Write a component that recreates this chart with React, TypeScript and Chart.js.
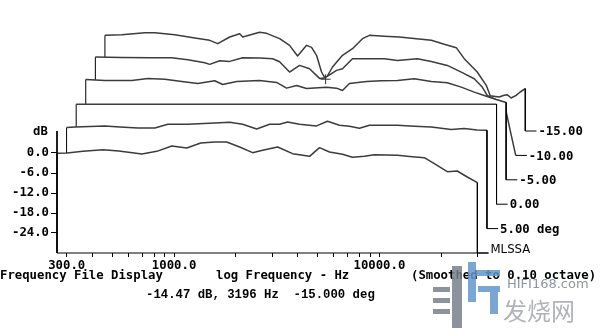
import React, { useEffect, useRef } from 'react';
import { Chart, registerables } from 'chart.js';

Chart.register(...registerables);

// ---- data: one trace per angle, each in its own (frequency Hz, dB) frame ----
const FRAME_LABELS = ['MLSSA', '5.00 deg', '0.00', '-5.00', '-10.00', '-15.00'];

const FREQ_0 = [269, 301, 360, 450, 538, 697, 824, 975, 1153, 1348, 1577, 1804, 2086, 2413, 2699, 3193, 3778, 4568, 5109, 5712, 6610, 7389, 8455, 9457, 12235, 14469, 16548, 18513, 21413, 23944, 26777, 30000];
const DB_0 = [-0.1, 0.0, 0.5, 1.0, 0.6, -0.3, 0.5, 2.1, 1.5, 3.0, 3.3, 3.3, 1.8, 0.1, 0.8, 1.8, -0.2, -1.0, 1.6, 0.3, -0.4, -1.3, -1.0, -0.5, -0.7, -1.1, -1.4, -3.2, -5.6, -5.4, -7.2, -8.9];

const FREQ_1 = [269, 296, 413, 489, 598, 724, 837, 1047, 1417, 1675, 1938, 2267, 2622, 2933, 3207, 3667, 4437, 5018, 5739, 6418, 7180, 8030, 9498, 10985, 13288, 16073, 20108, 23256, 26895, 30000];
const DB_1 = [0.3, 0.5, 0.8, 0.5, 0.2, 0.2, 1.3, 1.3, 1.7, 1.9, 1.3, -0.1, 1.3, 1.3, 2.0, 1.3, 0.8, 2.2, 1.0, 0.7, 0.1, 1.0, 1.0, 1.0, 0.7, 0.5, -0.3, 0.0, -0.4, -0.5];

const FREQ_2 = [269, 30000];
const DB_2 = [0, 0];

const FREQ_3 = [269, 334, 451, 540, 653, 790, 945, 1142, 1249, 1462, 1890, 2287, 2558, 2861, 3200, 4003, 4477, 4786, 5177, 6263, 7406, 8861, 10718, 12966, 15508, 18140, 20976, 23464, 26838, 30000];
const DB_3 = [0.1, -0.2, -0.2, 0.4, 0.2, -0.5, -1.1, -0.3, -1.4, -0.5, -0.2, -0.8, -2.5, -1.7, -2.6, -2.2, -2.5, -3.2, -1.1, -0.5, -0.3, -0.2, 0.3, -0.5, -0.9, -2.2, -3.7, -4.7, -5.9, -6.8];

const FREQ_4 = [269, 362, 496, 634, 759, 918, 970, 1085, 1214, 1404, 1698, 1965, 2124, 2375, 2657, 2972, 3324, 3516, 4021, 4300, 4808, 5626, 6880, 7958, 9956, 11644, 13929, 16290, 18844, 20606, 21797, 24112, 26363, 28199, 30000];
const DB_4 = [-0.5, -0.6, -0.7, -0.7, -1.3, -2.2, -2.7, -1.6, -1.8, -0.7, -0.8, -1.0, -1.9, -5.0, -3.0, -4.0, -6.9, -6.8, -4.5, -4.0, -1.0, -1.0, -1.0, -1.5, -1.0, -1.8, -3.0, -5.0, -7.0, -9.5, -12.0, -13.3, -14.1, -22.5, -30.0];

const FREQ_5 = [269, 325, 421, 471, 589, 737, 871, 953, 1090, 1219, 1261, 1525, 1649, 1908, 2133, 2334, 2581, 2730, 2887, 3053, 3196, 3453, 3862, 4320, 4831, 5224, 6180, 7308, 8841, 10457, 12093, 13836, 15126, 17503, 19361, 20248, 22387, 23673, 24482, 25604, 27079, 28318, 30000];
const DB_5 = [-1.3, -1.1, -0.5, -0.5, -1.1, -2.1, -2.8, -3.8, -1.8, -0.8, -1.8, -0.4, -0.7, -2.3, -4.3, -7.5, -4.3, -4.9, -7.3, -12.3, -14.47, -10.8, -7.3, -5.3, -2.3, -1.3, -1.6, -1.8, -2.3, -2.8, -4.0, -5.0, -8.3, -12.3, -16.3, -19.4, -19.8, -19.3, -19.1, -20.1, -19.3, -18.3, -17.3];

const X_TICKS = [300, 400, 500, 600, 700, 800, 900, 1000, 2000, 3000, 4000, 5000, 6000, 7000, 8000, 9000, 10000, 20000, 30000];
const X_LABELED = [300, 1000, 10000];
const Y_TICKS = [0, -6, -12, -18, -24];

const CURSOR_FREQ = 3196;
const CURSOR_DB = -14.47;
const CURSOR_FRAME = 5;
const CURSOR_TEXT = '-14.47 dB, 3196 Hz  -15.000 deg';

// frame geometry (in data units)
const F_MIN = 269;
const F_MAX = 30000;
const F_TAIL = 34000;
const DB_FLOOR = -30;
const DB_AXIS_TOP = 6.6;
const STEP_DB = 7.32;
const STEP_FACTOR = 1.1135;

// layout
const W = 600;
const H = 328;
const AREA_LEFT = 57;
const AREA_RIGHT = 595;
const AREA_TOP = 10;
const AREA_BOTTOM = 253;
const DECADE_PX = 205.7;
const PX_PER_DB = 20 / 6;
const X_MAX = F_MIN * Math.pow(10, (AREA_RIGHT - AREA_LEFT) / DECADE_PX);
const Y_MAX = DB_FLOOR + (AREA_BOTTOM - AREA_TOP) / PX_PER_DB;

const FRAMES = [
  { freq: FREQ_0, db: DB_0 },
  { freq: FREQ_1, db: DB_1 },
  { freq: FREQ_2, db: DB_2 },
  { freq: FREQ_3, db: DB_3 },
  { freq: FREQ_4, db: DB_4 },
  { freq: FREQ_5, db: DB_5 },
];

const MONO = '"DejaVu Sans Mono", monospace';
const FONT_SIZE = 12.3;
const TRACE_COLOR = '#3c3c3c';
const EDGE_COLOR = '#000';

function frameDataset(i: number) {
  const { freq, db } = FRAMES[i];
  const s = Math.pow(STEP_FACTOR, i);
  const off = STEP_DB * i;
  const floor = DB_FLOOR + off;
  const pts: { x: number; y: number }[] = [{ x: F_MIN * s, y: floor }];
  freq.forEach((f, k) => pts.push({ x: f * s, y: Math.max(db[k], DB_FLOOR) + off }));
  pts.push({ x: F_MAX * s, y: floor });
  pts.push({ x: F_TAIL * s, y: floor });
  const n = pts.length;
  const isEdge = (c: any) => c.p0DataIndex === 0 || c.p1DataIndex >= n - 2;
  return {
    type: 'line' as const,
    data: pts,
    borderColor: TRACE_COLOR,
    borderWidth: 1.5,
    borderJoinStyle: 'round' as const,
    pointRadius: 0,
    tension: 0,
    fill: { value: floor },
    backgroundColor: '#ffffff',
    clip: false as const,
    segment: {
      borderColor: (c: any) => (isEdge(c) ? EDGE_COLOR : undefined),
      borderWidth: (c: any) => (isEdge(c) ? 1 : undefined),
    },
  };
}

const textPlugin = {
  id: 'mlssaText',
  afterDraw(chart: any) {
    const ctx = chart.ctx as CanvasRenderingContext2D;
    const xs = chart.scales.x;
    const ys = chart.scales.y;
    ctx.save();
    ctx.fillStyle = '#000';
    ctx.textBaseline = 'middle';
    ctx.textAlign = 'left';
    FRAME_LABELS.forEach((t, i) => {
      const s = Math.pow(STEP_FACTOR, i);
      const x = xs.getPixelForValue(F_TAIL * s) + 2;
      const y = ys.getPixelForValue(DB_FLOOR + STEP_DB * i);
      ctx.font = i === 0 ? '13px "Liberation Sans Narrow", "DejaVu Sans Condensed", sans-serif' : `bold ${FONT_SIZE}px ` + MONO;
      ctx.fillText(t, x, y + (i === 0 ? -3 : 1));
    });
    ctx.font = `bold ${FONT_SIZE}px ` + MONO;
    ctx.fillText('dB', 33, ys.getPixelForValue(DB_AXIS_TOP) + 1);
    ctx.fillText('Frequency File Display', 0, 276);
    ctx.fillText('log Frequency - Hz', 216, 276);
    ctx.fillText('(Smoothed to 0.10 octave)', 411, 276);
    ctx.font = 'bold 12.3px "Liberation Mono", monospace';
    ctx.fillText(CURSOR_TEXT, 146, 295);

    // watermark
    ctx.fillStyle = 'rgba(120,128,140,0.85)';
    ctx.fillRect(433, 287, 17, 5);
    ctx.fillRect(433, 298, 17, 5);
    ctx.fillRect(433, 309, 17, 5);
    ctx.fillRect(452, 266, 10, 62);
    ctx.fillStyle = 'rgba(100,150,205,0.85)';
    ctx.fillRect(468, 262, 8, 40);
    ctx.fillRect(476, 270, 24, 6);
    ctx.fillRect(478, 286, 22, 6);
    ctx.fillRect(490, 292, 8, 22);
    ctx.fillStyle = '#8b96a3';
    ctx.font = '13px "DejaVu Sans", sans-serif';
    ctx.fillText('HIFI168.com', 507, 285);
    ctx.fillStyle = '#b0b4b8';
    ctx.font = '24px "Noto Sans CJK SC", sans-serif';
    ctx.fillText('发烧网', 503, 311);
    ctx.restore();
  },
};

export default function App() {
  const ref = useRef<HTMLCanvasElement | null>(null);
  useEffect(() => {
    if (!ref.current) return;
    const cs = Math.pow(STEP_FACTOR, CURSOR_FRAME);
    const datasets: any[] = [
      {
        type: 'line',
        data: [
          { x: F_MIN, y: DB_AXIS_TOP },
          { x: F_MIN, y: DB_FLOOR },
          { x: F_TAIL, y: DB_FLOOR },
        ],
        borderColor: EDGE_COLOR,
        borderWidth: 1,
        pointRadius: 0,
        fill: false,
        clip: false,
      },
      {
        type: 'line',
        data: [{ x: CURSOR_FREQ * cs, y: CURSOR_DB + STEP_DB * CURSOR_FRAME }],
        showLine: false,
        pointStyle: 'cross',
        pointRadius: 5,
        pointBorderWidth: 1,
        pointBorderColor: '#333',
        fill: false,
        clip: false,
      },
    ];
    FRAMES.forEach((_, i) => datasets.push(frameDataset(i)));

    const chart = new Chart(ref.current, {
      type: 'line',
      data: { datasets },
      options: {
        responsive: false,
        animation: false,
        events: [],
        layout: { padding: { left: 0, right: W - AREA_RIGHT, top: AREA_TOP, bottom: 0 } },
        plugins: { legend: { display: false }, tooltip: { enabled: false }, title: { display: false } },
        scales: {
          x: {
            type: 'logarithmic',
            min: F_MIN,
            max: X_MAX,
            afterFit: (s: any) => {
              s.height = H - AREA_BOTTOM;
            },
            afterBuildTicks: (s: any) => {
              s.ticks = X_TICKS.map((v) => ({ value: v }));
            },
            ticks: {
              autoSkip: false,
              maxRotation: 0,
              padding: 1,
              color: '#000',
              font: { family: MONO, size: FONT_SIZE, weight: 'bold' },
              callback: (v: any) => (X_LABELED.includes(Number(v)) ? Number(v).toFixed(1) : ''),
            },
            grid: { drawOnChartArea: false, drawTicks: true, tickLength: 4, color: '#000', lineWidth: 1 },
            border: { display: false },
          },
          y: {
            type: 'linear',
            min: DB_FLOOR,
            max: Y_MAX,
            afterFit: (s: any) => {
              s.width = AREA_LEFT;
            },
            afterBuildTicks: (s: any) => {
              s.ticks = Y_TICKS.map((v) => ({ value: v }));
            },
            ticks: {
              padding: 2,
              color: '#000',
              font: { family: MONO, size: FONT_SIZE, weight: 'bold' },
              callback: (v: any) => Number(v).toFixed(1),
            },
            grid: { drawOnChartArea: false, drawTicks: true, tickLength: 6, color: '#000', lineWidth: 1 },
            border: { display: false },
          },
        },
      },
      plugins: [textPlugin],
    } as any);
    return () => chart.destroy();
  }, []);

  return (
    <div style={{ position: 'fixed', left: 0, top: 0, width: W, height: H, background: '#fff' }}>
      <canvas ref={ref} width={W} height={H} style={{ display: 'block', width: W, height: H }} />
    </div>
  );
}
